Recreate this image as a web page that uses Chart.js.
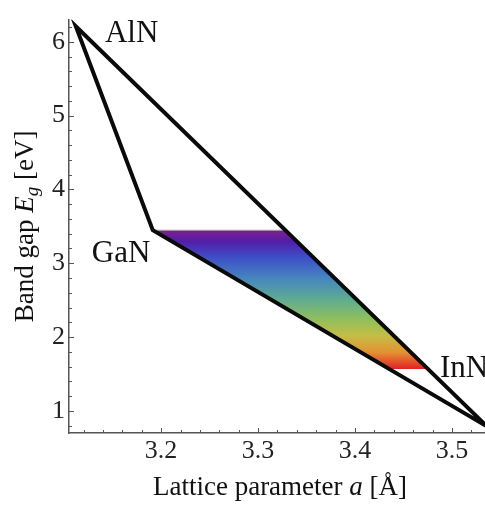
<!DOCTYPE html>
<html>
<head>
<meta charset="utf-8">
<script src="https://cdn.jsdelivr.net/npm/chart.js@4.4.1/dist/chart.umd.min.js"></script>
<style>
html, body { margin: 0; padding: 0; background: #fff; }
</style>
</head>
<body>
<canvas id="gapChart" width="485" height="506"></canvas>
<script>
// vertices of the nitride triangle
const compounds = ['AlN', 'GaN', 'InN'];
const latticeA = [3.112, 3.1914, 3.536];   // Å
const bandGap = [6.21, 3.447, 0.79];       // eV
// where the compound names sit (left edge, baseline)
const labelA = [3.142, 3.1285, 3.4875];
const labelE = [6.0, 3.01, 1.46];
// visible-light band that gets the rainbow fill
const bandTop = 3.447;
const bandBottom = 1.566;
const xTicks = [3.2, 3.3, 3.4, 3.5];
const yTicks = [1, 2, 3, 4, 5, 6];

const SERIF = '"Liberation Serif", "Times New Roman", serif';

function xOnEdge(i, j, e) {
    const t = (bandGap[i] - e) / (bandGap[i] - bandGap[j]);
    return latticeA[i] + t * (latticeA[j] - latticeA[i]);
}

const pt = i => ({x: latticeA[i], y: bandGap[i]});
// start at InN so the open end of the path is the clipped corner
const triangle = [pt(2), pt(0), pt(1), pt(2)];

const bandShape = [
    {x: latticeA[1], y: bandTop},
    {x: xOnEdge(0, 2, bandTop), y: bandTop},
    {x: xOnEdge(0, 2, bandBottom), y: bandBottom},
    {x: xOnEdge(1, 2, bandBottom), y: bandBottom},
    {x: latticeA[1], y: bandTop}
];
const bandTopEdge = bandShape.slice(0, 2);

function rainbow(context) {
    const chart = context.chart;
    if (!chart.chartArea) return 'rgba(0,0,0,0)';
    const y0 = chart.scales.y.getPixelForValue(bandTop);
    const y1 = chart.scales.y.getPixelForValue(bandBottom);
    const g = chart.ctx.createLinearGradient(0, y0, 0, y1);
    g.addColorStop(0.00, 'rgb(128,30,140)');
    g.addColorStop(0.08, 'rgb(82,30,168)');
    g.addColorStop(0.20, 'rgb(62,80,200)');
    g.addColorStop(0.35, 'rgb(70,135,190)');
    g.addColorStop(0.50, 'rgb(95,172,145)');
    g.addColorStop(0.63, 'rgb(140,190,95)');
    g.addColorStop(0.76, 'rgb(196,190,70)');
    g.addColorStop(0.88, 'rgb(228,145,50)');
    g.addColorStop(1.00, 'rgb(226,32,36)');
    return g;
}

function drawRuns(c, runs, x, y) {
    let w = 0;
    runs.forEach(r => { c.font = r[1]; w += c.measureText(r[0]).width; });
    let cx = x - w / 2;
    runs.forEach(r => {
        c.font = r[1];
        c.fillText(r[0], cx, y + (r[2] || 0));
        cx += c.measureText(r[0]).width;
    });
}

const decorPlugin = {
    id: 'decor',
    afterDraw(chart) {
        const c = chart.ctx;
        const xs = chart.scales.x, ys = chart.scales.y;
        const area = chart.chartArea;
        c.save();
        // inward tick marks, major and minor
        c.strokeStyle = '#555';
        c.lineWidth = 1;
        for (let k = 0; k <= 40; k++) {
            const v = 3.12 + k * 0.02;
            if (v > xs.max) break;
            const px = Math.round(xs.getPixelForValue(v)) + 0.5;
            const major = xTicks.some(t => Math.abs(t - v) < 1e-6);
            c.beginPath();
            c.moveTo(px, area.bottom);
            c.lineTo(px, area.bottom - (major ? 5 : 3));
            c.stroke();
        }
        for (let k = 0; k <= 40; k++) {
            const v = 0.8 + k * 0.2;
            if (v > ys.max) break;
            const py = Math.round(ys.getPixelForValue(v)) + 0.5;
            const major = yTicks.some(t => Math.abs(t - v) < 1e-6);
            c.beginPath();
            c.moveTo(area.left, py);
            c.lineTo(area.left + (major ? 5 : 3), py);
            c.stroke();
        }
        // compound names
        c.fillStyle = '#111';
        c.textAlign = 'left';
        c.textBaseline = 'alphabetic';
        c.font = '31px ' + SERIF;
        compounds.forEach((name, i) => {
            c.fillText(name, xs.getPixelForValue(labelA[i]), ys.getPixelForValue(labelE[i]));
        });
        // axis titles
        const fRoman = '27px ' + SERIF;
        const fItal = 'italic 27px ' + SERIF;
        const fSub = 'italic 19px ' + SERIF;
        drawRuns(c, [['Lattice parameter ', fRoman], ['a', fItal], [' [\u00c5]', fRoman]],
            (area.left + area.right) / 2 + 3, 495);
        c.translate(33, (area.top + area.bottom) / 2);
        c.rotate(-Math.PI / 2);
        drawRuns(c, [['Band gap ', fRoman], ['E', fItal], ['g', fSub, 5], [' [eV]', fRoman]], 0, 0);
        c.restore();
    }
};

const tickFont = {family: SERIF, size: 26};

const chartConfig = {
    type: 'scatter',
    data: {
        datasets: [{
            label: 'triangle',
            data: triangle,
            showLine: true,
            borderColor: '#0a0a0a',
            borderWidth: 4,
            borderJoinStyle: 'miter',
            pointRadius: 0,
            fill: false
        }, {
            label: 'top edge',
            data: bandTopEdge,
            showLine: true,
            borderColor: '#aaa',
            borderWidth: 1,
            pointRadius: 0,
            fill: false
        }, {
            label: 'visible band',
            data: bandShape,
            showLine: true,
            borderWidth: 0,
            borderColor: 'rgba(0,0,0,0)',
            backgroundColor: rainbow,
            pointRadius: 0,
            fill: 'shape'
        }]
    },
    plugins: [decorPlugin],
    options: {
        responsive: false,
        animation: false,
        devicePixelRatio: 1,
        layout: {padding: {top: 7, right: 0, left: 0, bottom: 0}},
        plugins: {legend: {display: false}, tooltip: {enabled: false}},
        scales: {
            x: {
                type: 'linear',
                min: 3.105,
                max: 3.534,
                afterFit: s => { s.height = 73; },
                afterBuildTicks: s => { s.ticks = xTicks.map(v => ({value: v})); },
                ticks: {
                    font: tickFont, color: '#222', padding: 3,
                    maxRotation: 0, autoSkip: false,
                    callback: v => Number(v).toFixed(1)
                },
                grid: {display: false, drawTicks: false},
                border: {display: true, color: '#555', width: 1.5}
            },
            y: {
                type: 'linear',
                min: 0.7,
                max: 6.3,
                afterFit: s => { s.width = 69; },
                afterBuildTicks: s => { s.ticks = yTicks.map(v => ({value: v})); },
                ticks: {
                    font: tickFont, color: '#222', padding: 4,
                    autoSkip: false,
                    callback: v => String(v)
                },
                grid: {display: false, drawTicks: false},
                border: {display: true, color: '#555', width: 1.5}
            }
        }
    }
};

window.onload = function() {
    const ctx = document.getElementById('gapChart').getContext('2d');
    window.gapChart = new Chart(ctx, chartConfig);
};
</script>
</body>
</html>
